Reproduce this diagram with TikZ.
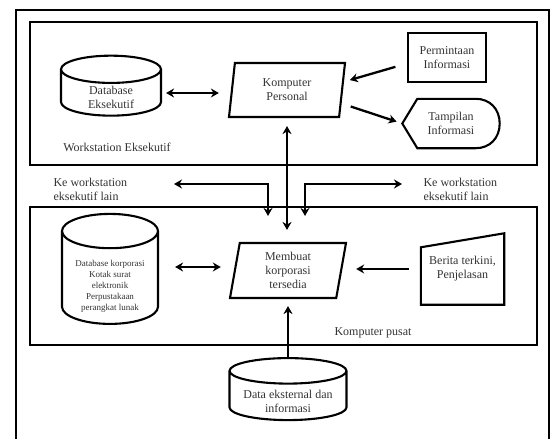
\documentclass[tikz,border=0pt]{standalone}
\usepackage{fontspec}
\setmainfont{Liberation Serif}
\usetikzlibrary{arrows.meta,shapes.geometric,calc}

\begin{document}
\begin{tikzpicture}[x=1pt,y=-1pt,
  frame/.style={draw=black,line width=2.6pt},
  box/.style={draw=black,line width=2.1pt},
  txt/.style={font=\fontsize{12}{14}\selectfont,text=black!80,align=center},
  small/.style={font=\fontsize{9}{11}\selectfont,text=black!80,align=center},
  db/.style={box,txt,cylinder,shape border rotate=90,aspect=0.62,inner sep=0pt},
  para/.style={box,trapezium,trapezium left angle=75,trapezium right angle=105,
    trapezium stretches body,inner sep=0pt},
  hold/.style={inner sep=0pt},
  arr/.style={line width=2.3pt,-{Stealth[length=8pt,width=9pt]}},
  darr/.style={line width=2.3pt,{Stealth[length=8pt,width=9pt]}-{Stealth[length=8pt,width=9pt]}},
]
\useasboundingbox (0,0) rectangle (550,439);

% outer frame and the two systems
\draw[frame] (16,441) -- (16,10) -- (549,10) -- (549,441);
\draw[box] (30,22) rectangle (537,165);
\draw[box] (30,207) rectangle (537,345);

% workstation eksekutif
\node[db,minimum width=100pt,minimum height=60pt,
  label={[txt,yshift=-4pt]center:Database\\Eksekutif}] (dbeks) at (111,93) {\phantom{Database}};
\node[para,txt,minimum width=116pt,minimum height=54pt] (kompers) at (287,90) {Komputer\\Personal};
\node[box,txt,minimum width=78pt,minimum height=49pt] (minta) at (447,57.5) {Permintaan\\Informasi};
\node[hold,txt,minimum width=97pt,minimum height=49pt] (tampil) at (451,123.5) {Tampilan\\Informasi};
\draw[box] (tampil.west) -- ($(tampil.north west)+(15,0)$) -- ($(tampil.north east)+(-24,0)$)
  .. controls ($(tampil.north east)+(-10,0)$) and ($(tampil.north east)+(0,10)$) .. (tampil.east)
  .. controls ($(tampil.south east)+(0,-10)$) and ($(tampil.south east)+(-10,0)$) .. ($(tampil.south east)+(-24,0)$)
  -- ($(tampil.south west)+(15,0)$) -- cycle;
\node[txt] (wseks) at (117,147) {Workstation Eksekutif};

% komputer pusat
\node[db,aspect=0.78,minimum width=96pt,minimum height=110pt,
  label={[small,yshift=-8pt]center:Database korporasi\\Kotak surat\\elektronik\\Perpustakaan\\perangkat lunak}]
  (dbkorp) at (110,278) {\phantom{Database}};
\node[para,txt,minimum width=116pt,minimum height=55pt] (membuat) at (288,270.5) {Membuat\\korporasi\\tersedia};
\node[hold,txt,minimum width=83pt,minimum height=71pt] (berita) at (462.5,269) {Berita terkini,\\Penjelasan};
\draw[box] (berita.south west) -- ($(berita.north west)+(0,14)$) -- (berita.north east)
  -- (berita.south east) -- cycle;
\node[txt] (pusat) at (373,333) {Komputer pusat};

\node[db,aspect=0.58,minimum width=117pt,minimum height=62pt,
  label={[txt,yshift=-5pt]center:Data eksternal dan\\informasi}] (dataeks) at (288,396) {\phantom{Database}};

% ke workstation lain
\node[txt,align=left,anchor=west] (kekiri) at (50,189) {Ke workstation\\eksekutif lain};
\node[txt,align=left,anchor=west] (kekanan) at (420,189) {Ke workstation\\eksekutif lain};
\coordinate (ujungkiri) at (174,184);
\coordinate (ujungkanan) at (402,184);

% arus data
\draw[darr,shorten <=4pt,shorten >=12pt] (dbeks.east) -- (dbeks.east -| kompers.west);
\draw[arr,shorten <=12pt,shorten >=7pt] ([yshift=-6pt]minta.west) -- ([yshift=8pt]kompers.east);
\draw[arr,shorten <=8pt,shorten >=6pt] ([yshift=-14pt]kompers.east) -- (tampil.west);
\draw[darr,shorten <=8pt,shorten >=12pt] (kompers.south) -- (kompers.south |- membuat.north);
\draw[darr,shorten >=26pt] (ujungkiri) -| ([xshift=-20pt]membuat.north);
\draw[darr,shorten >=26pt] (ujungkanan) -| ([xshift=17pt]membuat.north);
\draw[darr,shorten <=16pt,shorten >=13pt] ([yshift=11pt]dbkorp.east) -- ([yshift=11pt]dbkorp.east -| membuat.west);
\draw[arr,shorten <=12pt,shorten >=14pt] (berita.west) -- (berita.west -| membuat.east);
\draw[arr,shorten >=7pt] (dataeks.north) -- (dataeks.north |- membuat.south);

\end{tikzpicture}
\end{document}
